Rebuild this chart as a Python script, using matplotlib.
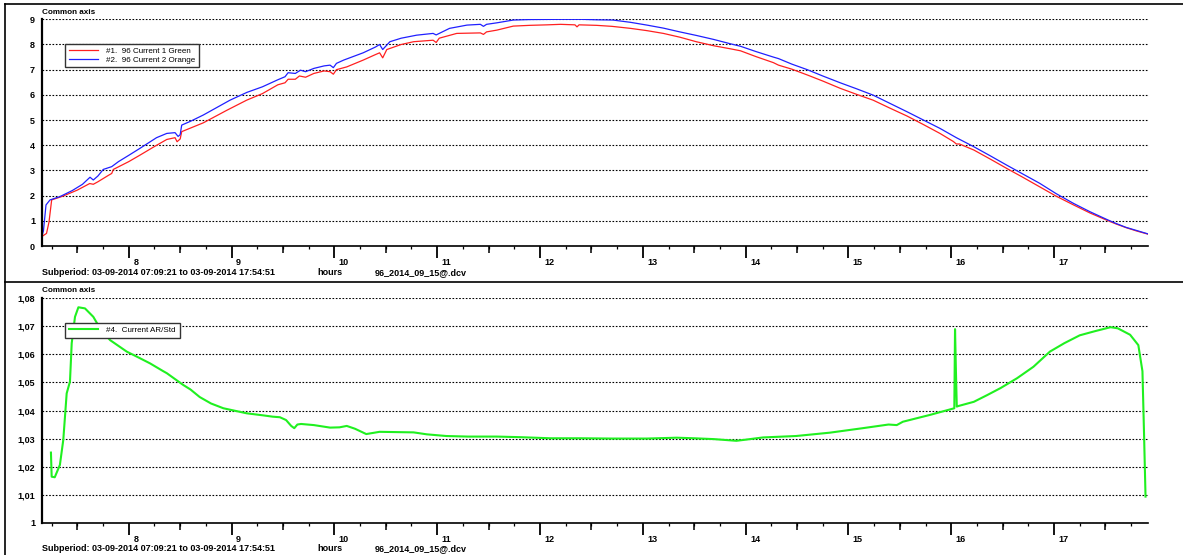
import numpy as np
import matplotlib
matplotlib.use('Agg')
import matplotlib.pyplot as plt
from matplotlib.lines import Line2D
from matplotlib.transforms import ScaledTranslation

plt.rcParams['font.family'] = ['Liberation Sans', 'DejaVu Sans']

# -----------------------------
# Data (hours of day)
# -----------------------------
red_t = [7.156, 7.20, 7.224, 7.25, 7.36, 7.50, 7.62, 7.655, 7.70, 7.80, 7.834, 7.85,
         8.00, 8.11, 8.25, 8.37, 8.45, 8.47, 8.50, 8.515, 8.725, 8.95, 9.147, 9.30,
         9.45, 9.52, 9.55, 9.62, 9.66, 9.72, 9.80, 9.90, 9.958, 9.99, 10.02, 10.12,
         10.28, 10.40, 10.44, 10.47, 10.51, 10.65, 10.77, 10.96, 10.99, 11.02, 11.19,
         11.42, 11.45, 11.48, 11.58, 11.74, 11.90, 12.07, 12.20, 12.34, 12.36, 12.38,
         12.55, 12.70, 12.88, 13.04, 13.20, 13.36, 13.52, 13.69, 13.85, 13.95, 14.10,
         14.27, 14.32, 14.45, 14.60, 14.75, 14.92, 15.08, 15.24, 15.40, 15.57, 15.73,
         15.89, 16.02, 16.05, 16.08, 16.22, 16.38, 16.54, 16.70, 16.86, 17.02, 17.19,
         17.35, 17.51, 17.60, 17.70, 17.80, 17.914]
red_v = [0.38, 0.50, 0.95, 1.83, 1.98, 2.22, 2.48, 2.45, 2.55, 2.80, 2.88, 3.04,
         3.35, 3.61, 3.95, 4.23, 4.30, 4.14, 4.25, 4.54, 4.89, 5.38, 5.79, 6.05,
         6.40, 6.48, 6.62, 6.62, 6.75, 6.70, 6.85, 6.95, 6.92, 6.82, 7.00, 7.11,
         7.38, 7.60, 7.67, 7.47, 7.80, 8.00, 8.11, 8.17, 8.08, 8.25, 8.44,
         8.46, 8.40, 8.50, 8.57, 8.73, 8.76, 8.78, 8.80, 8.78, 8.70, 8.78,
         8.76, 8.72, 8.64, 8.55, 8.44, 8.29, 8.11, 7.95, 7.83, 7.75, 7.52,
         7.28, 7.18, 7.02, 6.79, 6.55, 6.26, 6.02, 5.79, 5.48, 5.16, 4.82,
         4.47, 4.15, 4.05, 4.05, 3.81, 3.45, 3.08, 2.72, 2.35, 1.98, 1.63,
         1.31, 1.03, 0.88, 0.73, 0.60, 0.47]

blue_t = [7.156, 7.17, 7.195, 7.234, 7.33, 7.45, 7.55, 7.623, 7.655, 7.70, 7.752, 7.834,
          7.90, 8.00, 8.11, 8.27, 8.37, 8.45, 8.48, 8.50, 8.515, 8.60, 8.725, 8.985,
          9.15, 9.30, 9.45, 9.52, 9.55, 9.62, 9.67, 9.72, 9.80, 9.90, 9.958, 9.99,
          10.02, 10.09, 10.28, 10.40, 10.44, 10.47, 10.54, 10.65, 10.80, 10.96, 10.99,
          11.12, 11.29, 11.42, 11.45, 11.48, 11.58, 11.74, 11.90, 12.20, 12.40, 12.55,
          12.71, 12.88, 13.04, 13.20, 13.36, 13.52, 13.69, 13.85, 13.95, 14.10, 14.27,
          14.32, 14.45, 14.60, 14.75, 14.92, 15.08, 15.24, 15.40, 15.57, 15.73, 15.89,
          16.05, 16.22, 16.38, 16.54, 16.70, 16.86, 17.02, 17.19, 17.35, 17.51, 17.60,
          17.70, 17.80, 17.914]
blue_v = [0.40, 0.60, 1.63, 1.83, 1.96, 2.20, 2.45, 2.73, 2.62, 2.78, 3.04, 3.15,
          3.35, 3.60, 3.88, 4.30, 4.47, 4.50, 4.35, 4.42, 4.80, 4.95, 5.20, 5.79,
          6.10, 6.32, 6.60, 6.72, 6.88, 6.85, 6.98, 6.92, 7.05, 7.15, 7.18, 7.08,
          7.25, 7.38, 7.67, 7.90, 8.00, 7.80, 8.11, 8.25, 8.37, 8.44, 8.38,
          8.64, 8.77, 8.80, 8.72, 8.80, 8.86, 8.97, 8.99, 9.00, 9.00, 8.98,
          8.97, 8.88, 8.77, 8.65, 8.50, 8.36, 8.20, 8.03, 7.93, 7.72, 7.50,
          7.44, 7.22, 7.00, 6.75, 6.48, 6.24, 5.99, 5.67, 5.33, 5.00, 4.67,
          4.30, 3.94, 3.58, 3.21, 2.85, 2.49, 2.08, 1.69, 1.36, 1.06, 0.90,
          0.74, 0.62, 0.48]

green_t = [7.243, 7.25, 7.28, 7.33, 7.363, 7.396, 7.428, 7.445, 7.477, 7.51, 7.574, 7.655,
           7.72, 7.818, 7.98, 8.10, 8.207, 8.336, 8.37, 8.53, 8.60, 8.69, 8.80, 8.92,
           9.147, 9.30, 9.40, 9.47, 9.53, 9.58, 9.61, 9.64, 9.676, 9.80, 9.958, 10.05,
           10.12, 10.20, 10.31, 10.44, 10.60, 10.77, 10.90, 11.09, 11.30, 11.58, 11.80,
           12.10, 12.39, 12.70, 13.04, 13.33, 13.50, 13.69, 13.91, 14.00, 14.17, 14.49,
           14.82, 15.14, 15.39, 15.47, 15.53, 15.79, 16.030, 16.037, 16.045, 16.054,
           16.07, 16.14, 16.22, 16.35, 16.48, 16.64, 16.80, 16.96, 17.10, 17.25, 17.40,
           17.55, 17.62, 17.74, 17.82, 17.86, 17.875, 17.89]
green_v = [1.0250, 1.0164, 1.0162, 1.0206, 1.0295, 1.0461, 1.0503, 1.0640, 1.0734, 1.0768, 1.0764, 1.0734,
           1.0693, 1.0651, 1.0610, 1.0588, 1.0568, 1.0540, 1.0533, 1.0491, 1.0475, 1.0448, 1.0425, 1.0408,
           1.0390, 1.0383, 1.0378, 1.0376, 1.0366, 1.0345, 1.0337, 1.0350, 1.0352, 1.0348, 1.0339, 1.0340,
           1.0345, 1.0335, 1.0316, 1.0324, 1.0323, 1.0322, 1.0315, 1.0309, 1.0307, 1.0307, 1.0305,
           1.0301, 1.0301, 1.0300, 1.0300, 1.0303, 1.0301, 1.0298, 1.0292, 1.0296, 1.0304, 1.0309,
           1.0321, 1.0337, 1.0350, 1.0348, 1.0360, 1.0384, 1.0408, 1.0690, 1.0551, 1.0414,
           1.0416, 1.0423, 1.0431, 1.0455, 1.0480, 1.0515, 1.0556, 1.0610, 1.0640, 1.0668, 1.0683,
           1.0697, 1.0693, 1.0670, 1.0633, 1.0540, 1.0324, 1.0093]

hour_ticks = list(range(8, 18))
top_yticks = list(range(0, 10))
bot_yticks = [1.00, 1.01, 1.02, 1.03, 1.04, 1.05, 1.06, 1.07, 1.08]
bot_ylabels = ['1', '1,01', '1,02', '1,03', '1,04', '1,05', '1,06', '1,07', '1,08']
subperiod = 'Subperiod: 03-09-2014 07:09:21 to 03-09-2014 17:54:51'
file_name = '96_2014_09_15@.dcv'
xmin, xmax = 7.156, 17.914

W, H = 1183, 555
fig = plt.figure(figsize=(W / 100, H / 100), dpi=100)


def px(x, y):
    return x / W, 1 - y / H


def setup_axes(ax, yticks, ylabels, ylim):
    ax.set_xlim(xmin, xmax)
    ax.set_ylim(*ylim)
    ax.set_yticks(yticks)
    ax.set_yticklabels(ylabels, fontweight='bold', fontsize=6.5)
    ax.tick_params(axis='y', length=0, pad=5)
    ax.set_xticks(hour_ticks)
    ax.set_xticklabels([str(h) for h in hour_ticks], fontweight='bold', fontsize=6.5)
    ax.set_xticks(np.arange(7.25, 18, 0.25), minor=True)
    ax.tick_params(axis='x', which='major', length=8.5, width=1.3, pad=0.3, direction='out')
    ax.tick_params(axis='x', which='minor', length=2.5, width=0.9, direction='out')
    offset = ScaledTranslation(4.5 / 100, 0, fig.dpi_scale_trans)
    for lab in ax.get_xticklabels():
        lab.set_horizontalalignment('left')
        lab.set_transform(lab.get_transform() + offset)
    sec = ax.secondary_xaxis('bottom')
    sec.set_xticks(np.arange(7.5, 18, 1.0))
    sec.tick_params(length=5, width=1.1, labelbottom=False)
    sec.spines['bottom'].set_visible(False)
    ax.spines['top'].set_visible(False)
    ax.spines['right'].set_visible(False)
    ax.spines['left'].set_linewidth(1.6)
    ax.spines['bottom'].set_linestyle((0, (1.5, 1.0)))
    ax.spines['bottom'].set_linewidth(1.2)
    ax.yaxis.grid(True, color='black', linestyle=(0, (1.5, 1.5)), linewidth=0.8)
    ax.set_axisbelow(True)


# -----------------------------
# Top panel
# -----------------------------
ax1 = fig.add_axes([42 / W, 1 - 246 / H, 1106 / W, (246 - 19.3) / H])
ax1.plot(red_t, red_v, color='#ff2020', lw=0.9, label='#1.  96 Current 1 Green')
ax1.plot(blue_t, blue_v, color='#2020ff', lw=0.9, label='#2.  96 Current 2 Orange')
setup_axes(ax1, top_yticks, [str(v) for v in top_yticks], (0, 9))
ax1.legend(loc='upper left', bbox_to_anchor=px(65, 44), bbox_transform=fig.transFigure,
           fontsize=5.8, frameon=True, fancybox=False, framealpha=1, edgecolor='#333333',
           borderaxespad=0, borderpad=0.45, handlelength=3.6, handletextpad=1.1,
           labelspacing=0.12)

# -----------------------------
# Bottom panel
# -----------------------------
ax2 = fig.add_axes([42 / W, 1 - 522.7 / H, 1106 / W, (522.7 - 298.3) / H])
ax2.plot(green_t, green_v, color='#20f020', lw=1.5, label='#4.  Current AR/Std')
setup_axes(ax2, bot_yticks, bot_ylabels, (1.0, 1.08))
ax2.legend(loc='upper left', bbox_to_anchor=px(65, 322.7), bbox_transform=fig.transFigure,
           fontsize=5.8, frameon=True, fancybox=False, framealpha=1, edgecolor='#333333',
           borderaxespad=0, borderpad=0.45, handlelength=3.6, handletextpad=1.1)

# -----------------------------
# Texts
# -----------------------------
for y_title, y_sub in [(13, 272.7), (290, 548.5)]:
    fig.text(*px(42.5, y_title), 'Common axis', fontsize=5.9, fontweight='bold', va='center')
    fig.text(*px(42.5, y_sub), subperiod, fontsize=6.5, fontweight='bold', va='center')
    fig.text(*px(317, y_sub), 'hours', fontsize=6.5, fontweight='bold', va='center')
    fig.text(*px(375, y_sub), file_name, fontsize=6.5, fontweight='bold', va='center')

# frame lines
fig.add_artist(Line2D([4.7 / W, 4.7 / W], [1 - 4 / H, 0], color='black', lw=1.2))
fig.add_artist(Line2D([4.7 / W, 1], [1 - 4 / H, 1 - 4 / H], color='black', lw=1.2))
fig.add_artist(Line2D([4.7 / W, 1], [1 - 281.7 / H, 1 - 281.7 / H], color='black', lw=1.2))

fig.savefig('out.png', dpi=100)
